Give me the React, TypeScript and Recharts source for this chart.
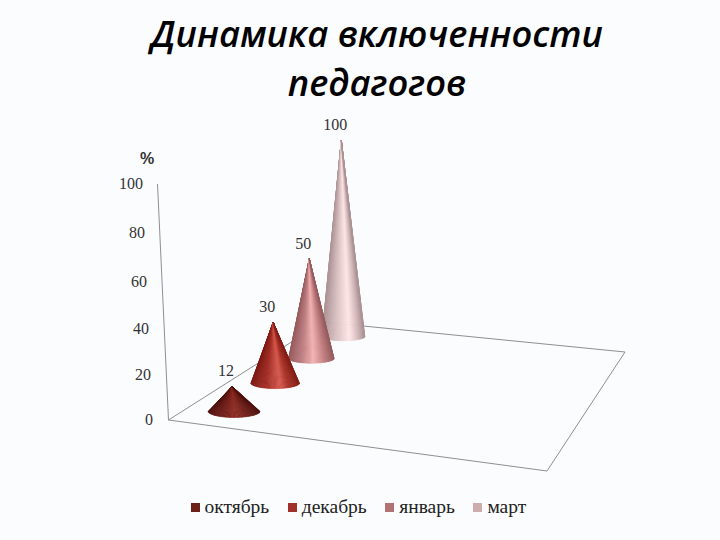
import React from 'react';
import { BarChart, Bar, XAxis, YAxis, Legend } from 'recharts';

const months = ['октябрь', 'декабрь', 'январь', 'март'];
const values = [12, 30, 50, 100];
const yTicks = [0, 20, 40, 60, 80, 100];
const swatches = ['#6d1f1a', '#a2302a', '#b07273', '#cfacad'];

const chartData = months.map((month, i) => ({ month, [month]: values[i] }));

const PLOT_LEFT = 168.5;
const PLOT_WIDTH = 380;

// floor of the 3d box: front-left, front-right, back-right, back-left
const A = [168.5, 420];
const B = [547, 471];
const C = [625, 352];
const D = [323, 322];
const AXIS_TOP = [157.5, 184];

const sx = A[0] - B[0] + C[0] - D[0];
const sy = A[1] - B[1] + C[1] - D[1];
const dx1 = B[0] - C[0];
const dy1 = B[1] - C[1];
const dx2 = D[0] - C[0];
const dy2 = D[1] - C[1];
const det = dx1 * dy2 - dx2 * dy1;
const g = (sx * dy2 - dx2 * sy) / det;
const h = (dx1 * sy - sx * dy1) / det;

// unit square to floor, w is the perspective divisor
const project = (u: number, v: number) => {
  const w = 1 + g * u + h * v;
  return {
    x: (A[0] + (B[0] - A[0] + g * B[0]) * u + (D[0] - A[0] + h * D[0]) * v) / w,
    y: (A[1] + (B[1] - A[1] + g * B[1]) * u + (D[1] - A[1] + h * D[1]) * v) / w + 1,
    w,
  };
};

// shading across the cone, [position, r, g, b]
const shades = [
  [[0, 79, 17, 13], [0.35, 120, 32, 26], [0.55, 140, 43, 35], [1, 79, 17, 13]],
  [[0, 125, 28, 20], [0.3, 158, 42, 33], [0.62, 212, 88, 76], [0.78, 168, 48, 37], [1, 130, 30, 22]],
  [[0, 150, 90, 92], [0.32, 192, 128, 132], [0.55, 242, 178, 178], [0.8, 192, 124, 126], [1, 150, 92, 94]],
  [[0, 172, 146, 148], [0.38, 222, 198, 200], [0.65, 255, 230, 230], [0.85, 212, 186, 188], [1, 172, 148, 150]],
];

const shadeAt = (stops: number[][], t: number) => {
  let k = 0;
  while (k < stops.length - 2 && t > stops[k + 1][0]) k++;
  const a = stops[k];
  const b = stops[k + 1];
  const f = (t - a[0]) / (b[0] - a[0]);
  return `rgb(${[1, 2, 3].map((c) => Math.round(a[c] + (b[c] - a[c]) * f)).join(',')})`;
};

const SLICES = 60;

const Cone = (props: any) => {
  const { x, width, height, index, value } = props;
  if (!height || height <= 0) return null;
  const cx = x + width / 2;
  const p = project(0.125, (cx - PLOT_LEFT) / PLOT_WIDTH);
  const rx = 26.4 / p.w;
  const ry = 6.5 / (p.w * p.w);
  const top = p.y - height * (0.62 + 0.26 / p.w);
  const apexX = p.x - 2;
  const shown = Array.isArray(value) ? value[1] - value[0] : value;
  const slices = [];
  for (let j = 0; j < SLICES; j++) {
    const a0 = (Math.PI * j) / SLICES;
    const a1 = (Math.PI * (j + 1)) / SLICES;
    const x0 = p.x - rx * Math.cos(a0);
    const x1 = p.x - rx * Math.cos(a1);
    const y0 = p.y + ry * Math.sin(a0);
    const y1 = p.y + ry * Math.sin(a1);
    const color = shadeAt(shades[index], ((x0 + x1) / 2 - (p.x - rx)) / (2 * rx));
    slices.push(
      <path key={j} d={`M${apexX},${top} L${x0},${y0} L${x1},${y1} Z`} fill={color} stroke={color} strokeWidth={0.6} />
    );
  }
  return (
    <g>
      {slices}
      <text
        x={apexX - 6}
        y={top - 10}
        textAnchor="middle"
        fontFamily="Liberation Serif"
        fontSize={16}
        fill="#333"
      >
        {shown}
      </text>
    </g>
  );
};

const SlantedTick = (props: any) => {
  const { y, payload } = props;
  const v = payload.value;
  return (
    <text
      x={153 - 0.1 * v}
      y={y + 5 + 0.0014 * v * (100 - v)}
      textAnchor="end"
      fontFamily="Liberation Serif"
      fontSize={16}
      fill="#333"
    >
      {v}
    </text>
  );
};

const legendContent = (props: any) => (
  <div style={{ display: 'flex', fontFamily: 'Liberation Serif', fontSize: 19.5, color: '#222', lineHeight: '22px' }}>
    {months.map((m) => {
      const item = props.payload.find((p: any) => p.value === m);
      return (
        <div key={m} style={{ display: 'flex', alignItems: 'center', marginRight: 18.5 }}>
          <span style={{ width: 9, height: 9, background: item ? item.color : '#000', marginRight: 5 }} />
          {m}
        </div>
      );
    })}
  </div>
);

export default function App() {
  return (
    <div style={{ position: 'fixed', left: 0, top: 0, width: 720, height: 540, background: '#fbfcfe' }}>
      <BarChart
        width={720}
        height={540}
        data={chartData}
        margin={{ top: 184, right: 171.5, bottom: 120, left: 0 }}
      >
        <text x={377} y={47} textAnchor="middle" fontFamily="Open Sans" fontStyle="italic" fontWeight={600} fontSize={36.3} fill="#000">
          Динамика включенности
        </text>
        <text x={377} y={96} textAnchor="middle" fontFamily="Open Sans" fontStyle="italic" fontWeight={600} fontSize={36.3} fill="#000">
          педагогов
        </text>
        <text x={147} y={164} textAnchor="middle" fontFamily="Liberation Sans" fontWeight={700} fontSize={16} fill="#333">
          %
        </text>
        <polygon
          points={[A, B, C, D].map((pt) => pt.join(',')).join(' ')}
          fill="none"
          stroke="#8f8f8f"
          strokeWidth={1}
        />
        <line x1={AXIS_TOP[0]} y1={AXIS_TOP[1]} x2={A[0]} y2={A[1]} stroke="#8f8f8f" strokeWidth={1} />
        <XAxis dataKey="month" hide />
        <YAxis
          width={168.5}
          domain={[0, 100]}
          ticks={yTicks}
          axisLine={false}
          tickLine={false}
          tick={<SlantedTick />}
        />
        <Legend
          verticalAlign="middle"
          wrapperStyle={{ position: 'absolute', top: 496, left: 190.5, width: 400 }}
          content={legendContent}
        />
        {[3, 2, 1, 0].map((i) => (
          <Bar
            key={months[i]}
            dataKey={months[i]}
            stackId="cones"
            fill={swatches[i]}
            shape={<Cone />}
            isAnimationActive={false}
          />
        ))}
      </BarChart>
    </div>
  );
}
